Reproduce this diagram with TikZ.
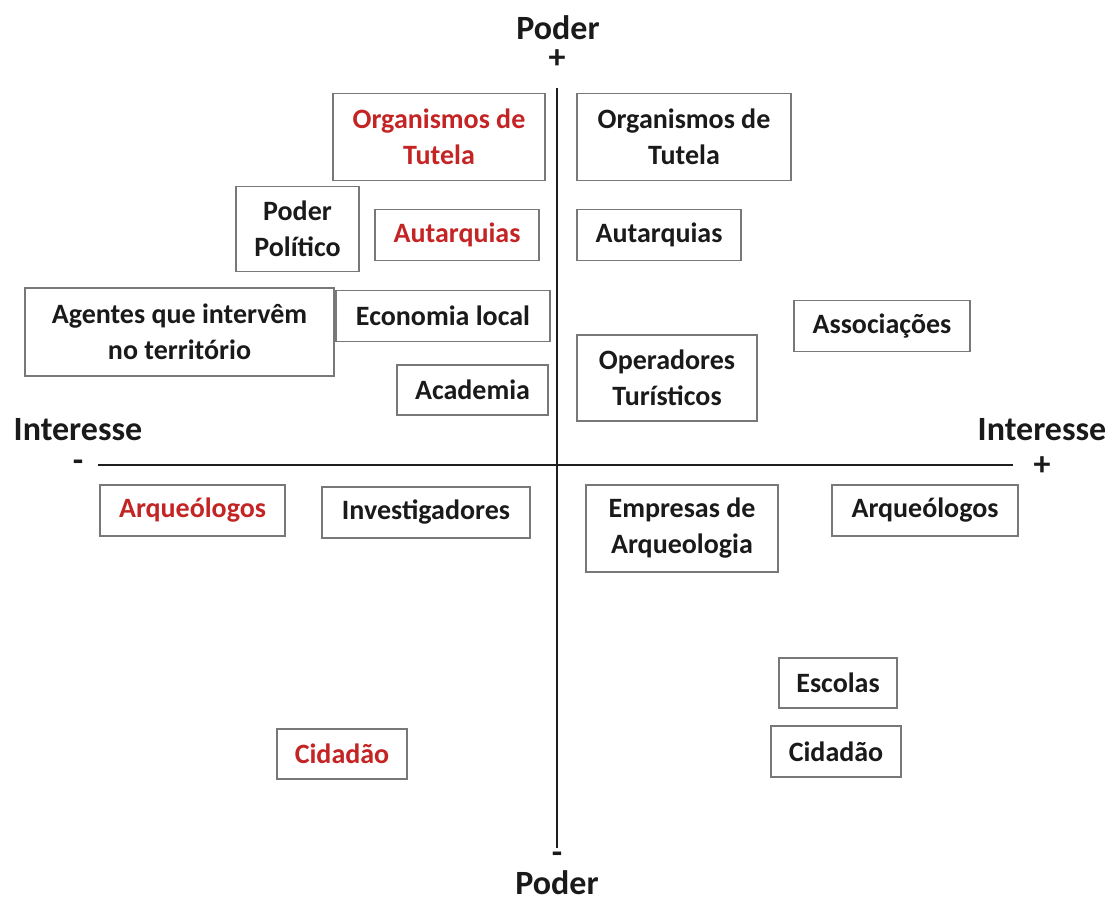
\documentclass[tikz,border=0pt]{standalone}
\usepackage{fontspec}
\setmainfont{Carlito}
\definecolor{txt}{RGB}{26,26,26}
\definecolor{redtxt}{RGB}{196,36,36}
\definecolor{frame}{RGB}{120,120,120}
\definecolor{axis}{RGB}{30,30,30}
\begin{document}
\begin{tikzpicture}[x=1pt,y=-1pt,
  box/.style={draw=frame, line width=1.8pt, fill=white, align=center, inner sep=0pt,
    font=\fontsize{28}{36}\selectfont\bfseries, text=txt},
  redbox/.style={box, text=redtxt},
  axlabel/.style={inner sep=0pt, font=\fontsize{34}{40}\selectfont\bfseries, text=txt},
  axline/.style={draw=axis, line width=2.2pt}]
\useasboundingbox (0,0) rectangle (1112,897);
% axes
\coordinate (vtop) at (557,88);
\coordinate (vbot) at (557,848);
\coordinate (hleft) at (98,465);
\coordinate (hright) at (1013,465);
\draw[axline] (vtop) -- (vbot);
\draw[axline] (hleft) -- (hright);
% axis labels
\node[axlabel] (pt) at (558,28) {Poder};
\node[axlabel] (ptp) at (557,59) {+};
\node[axlabel] (pbm) at (557,858) {-};
\node[axlabel] (pb) at (557,883) {Poder};
\node[axlabel] (il) at (78,430) {Interesse};
\node[axlabel] (ilm) at (78,466) {-};
\node[axlabel] (ir) at (1042,430) {Interesse};
\node[axlabel] (irp) at (1042,466) {+};
% boxes
\node[redbox, minimum width=212, minimum height=87] (redorg) at (439,137) {Organismos de\\Tutela};
\node[box, minimum width=214, minimum height=87] (org) at (684,137) {Organismos de\\Tutela};
\node[box, minimum width=123, minimum height=85] (poder) at (297.5,229) {Poder\\Político};
\node[redbox, minimum width=164, minimum height=51] (redaut) at (457,235) {Autarquias};
\node[box, minimum width=164, minimum height=51] (aut) at (659,235) {Autarquias};
\node[box, minimum width=309, minimum height=88] (agentes) at (179.5,332) {Agentes que intervêm\\no território};
\node[box, minimum width=214, minimum height=51] (econ) at (443,316) {Economia local};
\node[box, minimum width=176, minimum height=51] (assoc) at (882,326) {Associações};
\node[box, minimum width=180, minimum height=86] (oper) at (667,378) {Operadores\\Turísticos};
\node[box, minimum width=151, minimum height=50] (acad) at (472.5,390) {Academia};
\node[redbox, minimum width=185, minimum height=51] (redarq) at (192.5,510.5) {Arqueólogos};
\node[box, minimum width=208, minimum height=51] (invest) at (426,512.5) {Investigadores};
\node[box, minimum width=192, minimum height=87] (empresas) at (682,528.5) {Empresas de\\Arqueologia};
\node[box, minimum width=186, minimum height=51] (arq) at (925,510.5) {Arqueólogos};
\node[box, minimum width=118, minimum height=50] (escolas) at (838,683) {Escolas};
\node[box, minimum width=130, minimum height=51] (cid) at (836,751.5) {Cidadão};
\node[redbox, minimum width=130, minimum height=50] (redcid) at (342,754) {Cidadão};
\end{tikzpicture}
\end{document}
